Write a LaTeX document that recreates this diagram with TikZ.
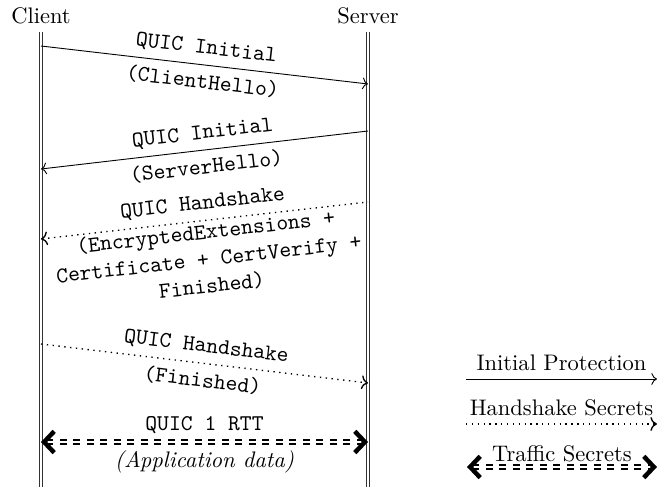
\documentclass[tikz,border=0pt]{standalone}
\usepackage{amsmath}
\usetikzlibrary{arrows,arrows.meta,calc,positioning}

\begin{document}
\begin{tikzpicture}[x=0.4444pt, y=-0.4444pt,
		lifeline/.style={double, semithick, double distance=0.5pt, draw=black!80},
		initmsg/.style={},
		hsmsg/.style={dotted, semithick},
		trafficmsg/.style={{Straight Barb[length=4.5pt,width=9.5pt,line width=2pt]}-{Straight Barb[length=4.5pt,width=9.5pt,line width=2pt]}, dashed, double, very thick},
		lbl/.style={font=\ttfamily, sloped}]
		\useasboundingbox (0,0) rectangle (657,487);
		\node (client) at (41,16) {Client};
		\node (server) at (368,16) {Server};
		\coordinate (cbot) at (41,487);
		\coordinate (sbot) at (368,487);
		\draw[lifeline] (client.south) -- (cbot);
		\draw[lifeline] (server.south) -- (sbot);
		% messages
		\coordinate (c1) at (41,46);
		\coordinate (s1) at (368,84);
		\coordinate (s2) at (368,131);
		\coordinate (c2) at (41,169);
		\coordinate (s3) at (368,202);
		\coordinate (c3) at (41,239);
		\coordinate (c4) at (41,344);
		\coordinate (s4) at (368,383);
		\coordinate (c5) at (41,442);
		\coordinate (s5) at (368,442);
		\draw[initmsg,->] (c1) -- node[lbl,above] {QUIC Initial} node[lbl,below] {(ClientHello)} (s1);
		\draw[initmsg,<-] (c2) -- node[lbl,above] {QUIC Initial} node[lbl,below] {(ServerHello)} (s2);
		\draw[hsmsg,<-] (c3) -- node[lbl,above] {QUIC Handshake} node[lbl,below,align=center,inner sep=1pt] {(EncryptedExtensions +\\Certificate + CertVerify +\\Finished)} (s3);
		\draw[hsmsg,->] (c4) -- node[lbl,above] {QUIC Handshake} node[lbl,below] {(Finished)} (s4);
		\draw[trafficmsg] (c5) -- node[lbl,above] {QUIC 1 RTT} node[below] {\textit{(Application data)}} (s5);
		% legend
		\coordinate (l1a) at (466,379);
		\coordinate (l1b) at (657,379);
		\coordinate (l2a) at (466,424);
		\coordinate (l2b) at (657,424);
		\coordinate (l3a) at (467,467);
		\coordinate (l3b) at (657,467);
		\draw[initmsg,->] (l1a) -- node[above] {Initial Protection} (l1b);
		\draw[hsmsg,->] (l2a) -- node[above] {Handshake Secrets} (l2b);
		\draw[trafficmsg] (l3a) -- node[above,inner sep=1.5pt] {Traffic Secrets} (l3b);
	\end{tikzpicture}
\end{document}
